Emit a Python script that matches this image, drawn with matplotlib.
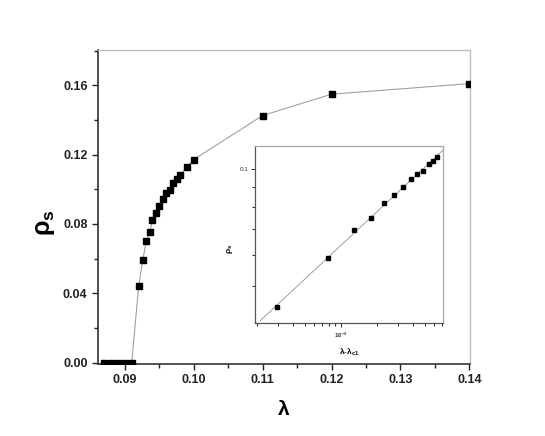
import matplotlib
matplotlib.use("Agg")
import matplotlib.pyplot as plt
from matplotlib.ticker import MultipleLocator, LogLocator, NullFormatter, FixedLocator, FixedFormatter

plt.rcParams['font.family'] = ['Liberation Sans', 'DejaVu Sans']
plt.rcParams['mathtext.fontset'] = 'custom'
plt.rcParams['mathtext.rm'] = 'Liberation Sans:bold'
plt.rcParams['mathtext.it'] = 'Liberation Sans:bold'
plt.rcParams['mathtext.bf'] = 'Liberation Sans:bold'

# main panel: superfluid density vs lambda
lam = [0.087, 0.088, 0.089, 0.090, 0.091,
       0.0920, 0.0926, 0.0931, 0.0936, 0.0940, 0.0945, 0.0950, 0.0955,
       0.0960, 0.0965, 0.0970, 0.0975, 0.0980, 0.0990, 0.1000,
       0.110, 0.120, 0.140]
rho_s = [0.0, 0.0, 0.0, 0.0, 0.0,
         0.044, 0.0592, 0.070, 0.0752, 0.0821, 0.0861, 0.0903, 0.0945,
         0.0978, 0.0999, 0.1037, 0.1059, 0.1082, 0.1130, 0.1172,
         0.1426, 0.1549, 0.1610]

# inset: log-log of rho_s vs lambda - lambda_c1
dlam = [0.00293, 0.00788, 0.0130, 0.0180, 0.0228, 0.0280, 0.0331,
        0.0385, 0.0435, 0.0485, 0.0541, 0.0588, 0.0638]
rho_in = [0.0440, 0.0591, 0.0697, 0.0748, 0.0820, 0.0857, 0.0898,
          0.0942, 0.0972, 0.0992, 0.1032, 0.1053, 0.1078]
# fitted power-law line (end points)
fit_x = [0.00213, 0.0716]
fit_y = [0.0406, 0.1122]

fig = plt.figure(figsize=(5.45, 4.36), dpi=100)
ax = fig.add_axes([0.1798, 0.1651, 0.6826, 0.7202])

ax.plot(lam, rho_s, color='#a0a0a0', lw=0.8, marker='s', ms=4.3,
        mfc='black', mec='black', zorder=3)
ax.set_xlim(0.0861, 0.1401)
ax.set_ylim(-0.0008, 0.1804)
ax.xaxis.set_major_locator(MultipleLocator(0.01))
ax.xaxis.set_minor_locator(MultipleLocator(0.005))
ax.yaxis.set_major_locator(MultipleLocator(0.04))
ax.yaxis.set_minor_locator(MultipleLocator(0.02))
ax.xaxis.set_major_formatter(plt.FormatStrFormatter('%.2f'))
ax.yaxis.set_major_formatter(plt.FormatStrFormatter('%.2f'))
ax.tick_params(which='both', direction='out', width=1, colors='#222222',
               labelsize=9, top=False, right=False)
ax.tick_params(which='major', length=4)
ax.tick_params(which='minor', length=3)
for lbl in ax.get_xticklabels() + ax.get_yticklabels():
    lbl.set_fontweight('bold')
for s in ['left', 'bottom']:
    ax.spines[s].set_color('#333333')
    ax.spines[s].set_linewidth(1.2)
for s in ['top', 'right']:
    ax.spines[s].set_color('#c0c0c0')
    ax.spines[s].set_linewidth(1.0)
ax.set_xlabel('λ', fontsize=15, fontweight='bold', labelpad=10)
ax.set_ylabel(r'$\rho_s$', fontsize=18)
ax.yaxis.set_label_coords(-0.11, 0.45)

# inset
ins = fig.add_axes([0.4684, 0.2585, 0.3450, 0.4066])
ins.plot(fit_x, fit_y, color='#909090', lw=0.6, zorder=2)
ins.plot(dlam, rho_in, ls='none', marker='s', ms=2.9, mfc='black',
         mec='black', zorder=3)
ins.set_xscale('log')
ins.set_yscale('log')
ins.set_xlim(0.00194, 0.0716)
ins.set_ylim(0.0400, 0.1148)
ins.xaxis.set_major_locator(FixedLocator([0.01]))
ins.xaxis.set_major_formatter(FixedFormatter([r'$10^{-2}$']))
ins.xaxis.set_minor_locator(LogLocator(base=10, subs=range(2, 10), numticks=20))
ins.xaxis.set_minor_formatter(NullFormatter())
ins.yaxis.set_major_locator(FixedLocator([0.1]))
ins.yaxis.set_major_formatter(FixedFormatter(['0.1']))
ins.yaxis.set_minor_locator(FixedLocator([0.05, 0.06, 0.07, 0.08, 0.09]))
ins.yaxis.set_minor_formatter(NullFormatter())
ins.tick_params(which='both', direction='out', colors='#333333', width=0.8,
                labelsize=4.5, top=False, right=False, pad=2)
ins.tick_params(which='major', length=3)
ins.tick_params(which='minor', length=2)
for s in ['left', 'bottom']:
    ins.spines[s].set_color('#555555')
    ins.spines[s].set_linewidth(0.9)
for s in ['top', 'right']:
    ins.spines[s].set_color('#a8a8a8')
    ins.spines[s].set_linewidth(0.9)
ins.set_xlabel(r'$\lambda$-$\lambda_{c1}$', fontsize=6, labelpad=5)
ins.set_ylabel(r'$\rho_s$', fontsize=6)
ins.yaxis.set_label_coords(-0.11, 0.42)

fig.savefig('out.png', dpi=100)
